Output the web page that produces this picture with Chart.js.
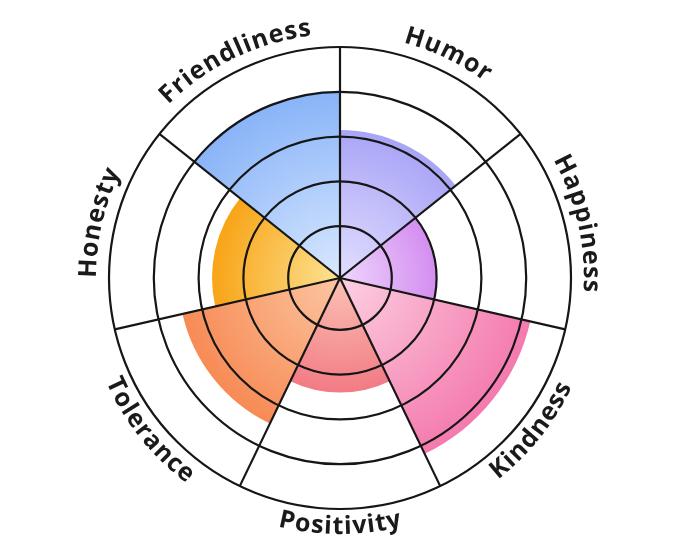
<!DOCTYPE html>
<html><head><meta charset="utf-8">
<script src="https://cdn.jsdelivr.net/npm/chart.js@4"></script>
<style>html,body{margin:0;padding:0;background:#fff}#wrap{width:680px;height:557px;position:relative}</style>
</head><body><div id="wrap"><canvas id="c"></canvas></div>
<script>
const categories = ['Humor','Happiness','Kindness','Positivity','Tolerance','Honesty','Friendliness'];
const values = [3.15, 2.0, 4.2, 2.4, 3.45, 2.7, 4.0];
const gridTicks = [1, 2, 3, 4, 5];
const innerColors = ['#e2deff','#eed6fc','#fcd0e1','#fbc2b4','#fcc6a2','#fde394','#d9e8ff'];
const outerColors = ['#a9a5f6','#d48ef0','#f47aae','#f27b85','#f78b55','#f8a416','#89b4f8'];

const curvedLabels = {
  id: 'curvedLabels',
  afterDraw(chart) {
    const s = chart.scales.r, ctx = chart.ctx;
    const n = categories.length, seg = 2 * Math.PI / n;
    const spacing = 1;
    ctx.save();
    ctx.font = '700 25px "Open Sans"';
    ctx.fillStyle = '#1a1a1a';
    ctx.textAlign = 'center';
    ctx.textBaseline = 'alphabetic';
    categories.forEach((label, i) => {
      const mid = s.getIndexAngle(i) + seg / 2;
      const bottom = mid > Math.PI / 2 && mid < 3 * Math.PI / 2;
      const R = s.drawingArea + (bottom ? 25 : 13);
      const chars = [...label];
      const widths = chars.map(ch => ctx.measureText(ch).width + spacing);
      const total = widths.reduce((a, b) => a + b, 0) - spacing;
      const cm = mid - Math.PI / 2;
      let theta = bottom ? cm + total / 2 / R : cm - total / 2 / R;
      chars.forEach((ch, k) => {
        const w = widths[k];
        const half = (w - spacing) / 2 / R;
        const a = bottom ? theta - half : theta + half;
        ctx.save();
        ctx.translate(s.xCenter + R * Math.cos(a), s.yCenter + R * Math.sin(a));
        ctx.rotate(bottom ? a - Math.PI / 2 : a + Math.PI / 2);
        ctx.fillText(ch, 0, 0);
        ctx.restore();
        theta = bottom ? theta - w / R : theta + w / R;
      });
    });
    ctx.restore();
  }
};

new Chart(document.getElementById('c'), {
  type: 'polarArea',
  data: {
    labels: categories,
    datasets: [{
      data: values,
      borderWidth: 0,
      backgroundColor: (c) => {
        const chart = c.chart, s = chart.scales.r, i = c.dataIndex;
        if (!s || i === undefined || s.xCenter === undefined) return outerColors[i] || '#ccc';
        const r = Math.max(1, s.getDistanceFromCenterForValue(values[i]));
        const g = chart.ctx.createRadialGradient(s.xCenter, s.yCenter, 0, s.xCenter, s.yCenter, r);
        g.addColorStop(0, innerColors[i]);
        g.addColorStop(1, outerColors[i]);
        return g;
      }
    }]
  },
  options: {
    responsive: true,
    maintainAspectRatio: false,
    animation: false,
    layout: { padding: { top: 47, bottom: 48, left: 0, right: 0 } },
    plugins: { legend: { display: false }, tooltip: { enabled: false } },
    scales: {
      r: {
        min: -0.156, max: 5,
        ticks: { display: false, z: 1 },
        afterBuildTicks: (sc) => { sc.ticks = gridTicks.map(v => ({ value: v })); },
        grid: { circular: true, color: '#161616', lineWidth: 2.2, z: 1 },
        angleLines: { display: true, color: '#161616', lineWidth: 2.2 },
        pointLabels: { display: false }
      }
    }
  },
  plugins: [curvedLabels]
});
</script>
</body></html>
